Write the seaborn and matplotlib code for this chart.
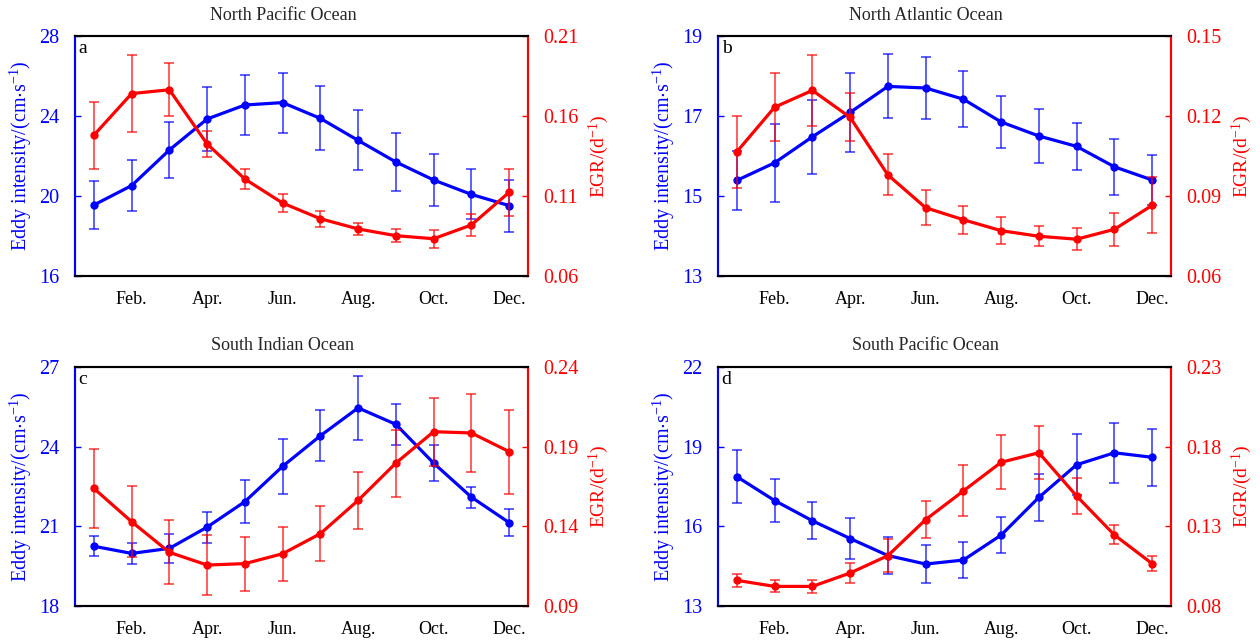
import numpy as np
import seaborn as sns
import matplotlib
matplotlib.use("Agg")
import matplotlib.pyplot as plt

sns.set_style("white")
plt.rcParams['font.family'] = ['Liberation Serif', 'DejaVu Serif']
plt.rcParams['mathtext.fontset'] = 'custom'
plt.rcParams['mathtext.rm'] = 'Liberation Serif'
plt.rcParams['mathtext.default'] = 'regular'

months = np.arange(1, 13)
tick_months = [2, 4, 6, 8, 10, 12]
tick_labels = ["Feb.", "Apr.", "Jun.", "Aug.", "Oct.", "Dec."]

titles = ["North Pacific Ocean", "North Atlantic Ocean", "South Indian Ocean", "South Pacific Ocean"]
letters = ["a", "b", "c", "d"]

# eddy intensity (cm/s) and its error
ei_a = [19.55, 20.52, 22.3, 23.85, 24.55, 24.67, 23.88, 22.78, 21.7, 20.8, 20.08, 19.52]
ei_a_err = [1.2, 1.27, 1.42, 1.6, 1.5, 1.5, 1.6, 1.5, 1.45, 1.3, 1.25, 1.3]
ei_b = [15.39, 15.83, 16.48, 17.09, 17.74, 17.7, 17.42, 16.85, 16.5, 16.24, 15.73, 15.4]
ei_b_err = [0.73, 0.97, 0.93, 0.98, 0.8, 0.77, 0.7, 0.66, 0.67, 0.58, 0.7, 0.62]
ei_c = [20.25, 19.98, 20.17, 20.97, 21.93, 23.26, 24.41, 25.46, 24.84, 23.38, 22.1, 21.14]
ei_c_err = [0.37, 0.41, 0.56, 0.58, 0.81, 1.03, 0.96, 1.2, 0.78, 0.68, 0.4, 0.5]
ei_d = [17.87, 16.97, 16.21, 15.54, 14.9, 14.58, 14.73, 15.67, 17.09, 18.32, 18.77, 18.6]
ei_d_err = [1.0, 0.82, 0.7, 0.77, 0.7, 0.7, 0.68, 0.67, 0.88, 1.15, 1.14, 1.08]

# eddy growth rate (1/d) and its error
egr_a = [0.148, 0.174, 0.1764, 0.1425, 0.1206, 0.1056, 0.0958, 0.0894, 0.0852, 0.0833, 0.0919, 0.1123]
egr_a_err = [0.021, 0.024, 0.0165, 0.008, 0.006, 0.0054, 0.005, 0.004, 0.004, 0.0057, 0.0069, 0.0148]
egr_b = [0.1066, 0.1233, 0.1296, 0.1195, 0.0979, 0.0856, 0.0811, 0.077, 0.0749, 0.0738, 0.0775, 0.0865]
egr_b_err = [0.0135, 0.0128, 0.0134, 0.009, 0.0077, 0.0066, 0.0053, 0.005, 0.0038, 0.0041, 0.0062, 0.0105]
egr_c = [0.1638, 0.1429, 0.1237, 0.1157, 0.1166, 0.1228, 0.1354, 0.1563, 0.1797, 0.1994, 0.1986, 0.1869]
egr_c_err = [0.025, 0.0223, 0.02, 0.0187, 0.017, 0.017, 0.0174, 0.018, 0.021, 0.0213, 0.0245, 0.0263]
egr_d = [0.0961, 0.0923, 0.0923, 0.1007, 0.1116, 0.1342, 0.1522, 0.1702, 0.1762, 0.149, 0.1246, 0.1066]
egr_d_err = [0.004, 0.0038, 0.004, 0.0064, 0.0105, 0.0115, 0.016, 0.017, 0.0165, 0.0114, 0.006, 0.0047]

ei_ticks = [[16, 20, 24, 28], [13, 15, 17, 19], [18, 21, 24, 27], [13, 16, 19, 22]]
egr_ticks = [[0.06, 0.11, 0.16, 0.21], [0.06, 0.09, 0.12, 0.15],
             [0.09, 0.14, 0.19, 0.24], [0.08, 0.13, 0.18, 0.23]]

ei_all = [ei_a, ei_b, ei_c, ei_d]
ei_err_all = [ei_a_err, ei_b_err, ei_c_err, ei_d_err]
egr_all = [egr_a, egr_b, egr_c, egr_d]
egr_err_all = [egr_a_err, egr_b_err, egr_c_err, egr_d_err]

W, H = 1260, 643
fig = plt.figure(figsize=(12.6, 6.43), dpi=100)
boxes = [(75, 36, 528, 276), (718, 36, 1171, 276), (75, 367, 528, 606), (718, 367, 1171, 606)]

blue = "#0000ff"
red = "#ff0000"

for i in range(4):
    x0, y0, x1, y1 = boxes[i]
    ax = fig.add_axes([x0 / W, 1 - y1 / H, (x1 - x0) / W, (y1 - y0) / H])
    ax2 = ax.twinx()

    ax.errorbar(months, ei_all[i], yerr=ei_err_all[i], fmt='none', ecolor=blue,
                elinewidth=1.1, capsize=3.5, capthick=1.1, alpha=0.8)
    sns.lineplot(x=months, y=ei_all[i], ax=ax, color=blue, lw=2.3, marker='o',
                 markersize=6, markeredgewidth=0, errorbar=None)
    ax2.errorbar(months, egr_all[i], yerr=egr_err_all[i], fmt='none', ecolor=red,
                 elinewidth=1.1, capsize=3.5, capthick=1.1, alpha=0.8)
    sns.lineplot(x=months, y=egr_all[i], ax=ax2, color=red, lw=2.3, marker='o',
                 markersize=6, markeredgewidth=0, errorbar=None)

    ax.set_xlim(0.5, 12.5)
    ax.set_ylim(ei_ticks[i][0], ei_ticks[i][-1])
    ax2.set_ylim(egr_ticks[i][0], egr_ticks[i][-1])
    ax.set_yticks(ei_ticks[i])
    ax.set_yticklabels([str(t) for t in ei_ticks[i]])
    ax2.set_yticks(egr_ticks[i])
    ax2.set_yticklabels([f"{t:.2f}" for t in egr_ticks[i]])
    ax.set_xticks(tick_months)
    ax.set_xticklabels(tick_labels)

    ax.tick_params(axis='x', direction='in', length=5, width=1, colors='black',
                   labelsize=13, pad=11)
    ax.tick_params(axis='y', direction='in', length=4, width=1, colors=blue,
                   labelsize=14.5, pad=11)
    ax2.tick_params(axis='y', direction='in', length=4, width=1, colors=red,
                    labelsize=14.5, pad=11)

    for a in (ax, ax2):
        for s in a.spines.values():
            s.set_linewidth(1.5)
            s.set_visible(True)
        a.spines['top'].set_color('black')
        a.spines['bottom'].set_color('black')
        a.spines['left'].set_color(blue)
        a.spines['right'].set_color(red)
        a.grid(False)

    ax.set_xlabel("")
    ax.set_ylabel(r"Eddy intensity/(cm$\cdot$s$^{-1}$)", color=blue, fontsize=14.5, labelpad=4)
    ax2.set_ylabel(r"EGR/(d$^{-1}$)", color=red, fontsize=14, labelpad=6)
    ax.text(0.459, 1.0 + 21 / (y1 - y0), titles[i], transform=ax.transAxes,
            ha='center', va='center', fontsize=13)
    ax.text(0.008, 0.985, letters[i], transform=ax.transAxes, ha='left', va='top',
            fontsize=14, color='black')

fig.savefig("out.png", dpi=100)
